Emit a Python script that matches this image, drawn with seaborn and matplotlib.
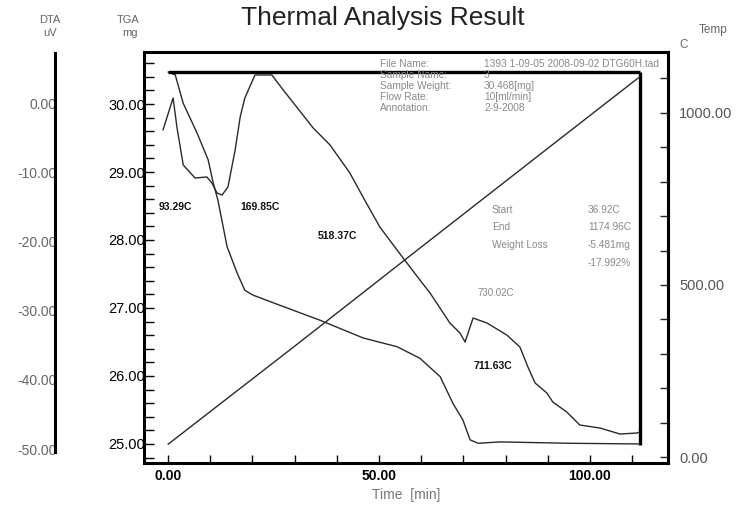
import matplotlib
matplotlib.use("Agg")
import matplotlib.pyplot as plt
from matplotlib.ticker import MultipleLocator, FormatStrFormatter
from matplotlib.patches import Rectangle
import pandas as pd
import seaborn as sns

# ---- measured data -------------------------------------------------------
# TGA mass curve
tga_time = [0.0, 1.7, 3.6, 6.9, 9.5, 10.7, 11.8, 14.0, 16.4, 18.2, 20.1, 26.5,
            36.0, 46.2, 54.3, 59.7, 64.5, 67.5, 69.9, 71.6, 73.5, 78.7, 95.3, 111.8]
tga_mass = [30.47, 30.43, 30.01, 29.57, 29.18, 28.84, 28.59, 27.90, 27.51, 27.26,
            27.19, 27.04, 26.82, 26.56, 26.43, 26.26, 25.99, 25.60, 25.35, 25.06,
            25.01, 25.03, 25.01, 25.00]

# DTA signal
dta_time = [-1.2, 1.2, 2.1, 3.6, 6.4, 9.2, 10.4, 11.6, 12.8, 14.2, 15.9, 17.1,
            18.2, 20.6, 24.6, 27.3, 34.4, 38.4, 43.1, 46.2, 50.2, 55.0, 59.7,
            62.1, 66.8, 69.2, 70.4, 72.3, 75.6, 80.3, 83.4, 85.3, 87.0, 89.8,
            91.2, 94.5, 97.6, 102.4, 107.1, 111.1, 111.8]
dta_uv = [-3.9, 0.72, -3.47, -8.96, -10.84, -10.69, -11.56, -13.0, -13.3, -12.14,
          -6.79, -2.02, 0.72, 4.05, 4.05, 1.88, -3.61, -6.07, -10.12, -13.58,
          -17.92, -21.82, -25.58, -27.46, -31.79, -33.24, -34.54, -31.07, -31.79,
          -33.53, -35.26, -38.15, -40.46, -41.91, -43.21, -44.65, -46.53, -46.97,
          -47.83, -47.69, -47.54]

# furnace temperature
temp_time = [0.0, 30.0, 60.0, 90.0, 111.8]
temp_c = [37.0, 322.0, 610.0, 897.0, 1105.0]

# weight-loss bracket
sample_weight = 30.468
end_time = 111.8
end_mass = 24.98

# peak annotations (time, position on DTA scale, label)
peak_time = [1.7, 21.9, 40.1, 77.0]
peak_dta = [-15.0, -15.0, -19.2, -38.0]
peak_text = ["93.29C", "169.85C", "518.37C", "711.63C"]

info_keys = ["File Name:", "Sample Name:", "Sample Weight:", "Flow Rate:", "Annotation:"]
info_vals = ["1393 1-09-05 2008-09-02 DTG60H.tad", "3", "30.468[mg]", "10[ml/min]", "2-9-2008"]
result_keys = ["Start", "End", "Weight Loss", ""]
result_vals = ["36.92C", "1174.96C", "-5.481mg", "-17.992%"]

# ---- style ---------------------------------------------------------------
sns.set_theme(style="white")
plt.rcParams["font.family"] = ["Liberation Sans", "DejaVu Sans"]

W, H = 737, 508
fig = plt.figure(figsize=(W / 100, H / 100), dpi=100)
ax = fig.add_axes([144 / W, 1 - 463 / H, 524 / W, 411 / H])

curve = "#2a2a2a"
spine_w = 2.2

tga_df = pd.DataFrame({"time": tga_time, "mass": tga_mass})
dta_df = pd.DataFrame({"time": dta_time, "dta": dta_uv})
tmp_df = pd.DataFrame({"time": temp_time, "temp": temp_c})

# TGA axis (left, main)
sns.lineplot(data=tga_df, x="time", y="mass", ax=ax, color=curve, lw=1.0)
ax.plot([0, end_time], [sample_weight, sample_weight], color="black", lw=2.4,
        solid_capstyle="butt")
ax.plot([end_time, end_time], [end_mass, sample_weight], color="black", lw=2.4,
        solid_capstyle="butt")
ax.set_xlim(-5.7, 118.5)
ax.set_ylim(24.72, 30.765)
ax.set_xlabel("Time  [min]", color="#777777", fontsize=10, labelpad=4)
ax.set_ylabel("")
ax.xaxis.set_major_locator(MultipleLocator(50))
ax.xaxis.set_minor_locator(MultipleLocator(10))
ax.xaxis.set_major_formatter(FormatStrFormatter("%.2f"))
ax.yaxis.set_major_locator(MultipleLocator(1))
ax.yaxis.set_minor_locator(MultipleLocator(0.2))
ax.yaxis.set_major_formatter(FormatStrFormatter("%.2f"))
ax.tick_params(axis="x", which="both", direction="in", length=6, width=1.0,
               bottom=True, top=False, pad=4, labelsize=10, colors="black")
ax.tick_params(axis="y", which="both", direction="in", length=7, width=1.0,
               left=True, right=False, pad=-1, labelsize=10.5, colors="black")
for lab in ax.get_xticklabels():
    lab.set_fontweight("bold")
for sp in ax.spines.values():
    sp.set_linewidth(spine_w)
    sp.set_color("black")

# temperature axis (right)
ax_t = ax.twinx()
sns.lineplot(data=tmp_df, x="time", y="temp", ax=ax_t, color=curve, lw=1.0)
ax_t.set_ylim(-17.4, 1177)
ax_t.set_ylabel("")
ax_t.yaxis.set_major_locator(MultipleLocator(500))
ax_t.yaxis.set_minor_locator(MultipleLocator(100))
ax_t.yaxis.set_major_formatter(FormatStrFormatter("%.2f"))
ax_t.tick_params(axis="y", which="both", direction="in", length=6, width=1.0,
                 right=True, left=False, pad=8, labelsize=10.5, labelcolor="#555555")
for name, sp in ax_t.spines.items():
    sp.set_visible(name == "right")
ax_t.spines["right"].set_linewidth(spine_w)
ax_t.spines["right"].set_color("black")

# DTA axis (detached, far left)
ax_d = ax.twinx()
sns.lineplot(data=dta_df, x="time", y="dta", ax=ax_d, color=curve, lw=1.0)
ax_d.set_ylim(-52.02, 7.37)
ax_d.set_ylabel("")
ax_d.yaxis.set_ticks_position("left")
ax_d.set_yticks([0, -10, -20, -30, -40, -50])
ax_d.yaxis.set_major_formatter(FormatStrFormatter("%.2f"))
ax_d.tick_params(axis="y", which="both", length=0, pad=-1, labelsize=10,
                 labelcolor="#666666")
for name, sp in ax_d.spines.items():
    sp.set_visible(name == "left")
ax_d.spines["left"].set_position(("outward", 89 * 0.72))
ax_d.spines["left"].set_linewidth(spine_w)
ax_d.spines["left"].set_color("black")
ax_d.spines["left"].set_bounds(-50.4, 7.2)
ax_d.patch.set_visible(False)

# peak labels
for t, v, s in zip(peak_time, peak_dta, peak_text):
    ax_d.text(t, v, s, ha="center", va="center", fontsize=7.5,
              fontweight="bold", color="#111111")
ax_d.text(77.7, -27.4, "730.02C", ha="center", va="center", fontsize=7,
          color="#888888")

# header and axis captions
fig.text(383 / W, 1 - 18 / H, "Thermal Analysis Result", ha="center",
         va="center", fontsize=19, color="#222222")
fig.text(50 / W, 1 - 20 / H, "DTA", ha="center", va="center", fontsize=8, color="#666666")
fig.text(50 / W, 1 - 33 / H, "uV", ha="center", va="center", fontsize=8, color="#666666")
fig.text(128 / W, 1 - 20 / H, "TGA", ha="center", va="center", fontsize=8, color="#666666")
fig.text(130 / W, 1 - 33 / H, "mg", ha="center", va="center", fontsize=8, color="#666666")
fig.text(713 / W, 1 - 30 / H, "Temp", ha="center", va="center", fontsize=8.5, color="#666666")
fig.text(684 / W, 1 - 45 / H, "C", ha="center", va="center", fontsize=8.5, color="#666666")

# measurement info block
for i, (k, v) in enumerate(zip(info_keys, info_vals)):
    y = 1 - (64 + 11 * i) / H
    fig.text(380 / W, y, k, ha="left", va="center", fontsize=7.3, color="#8a8a8a")
    fig.text(484 / W, y, v, ha="left", va="center", fontsize=7.3, color="#8a8a8a")

# weight-loss result block, clipped at the bracket
clip = Rectangle((-5.7, 24.72), end_time + 5.7, 6.1, transform=ax.transData)
for i, (k, v) in enumerate(zip(result_keys, result_vals)):
    y = 1 - (210 + 17.5 * i) / H
    if k:
        fig.text(492 / W, y, k, ha="left", va="center", fontsize=7.3, color="#8a8a8a")
    tv = fig.text(588 / W, y, v, ha="left", va="center", fontsize=7.3, color="#8a8a8a")
    tv.set_clip_path(clip)

fig.savefig("out.png", dpi=100)
